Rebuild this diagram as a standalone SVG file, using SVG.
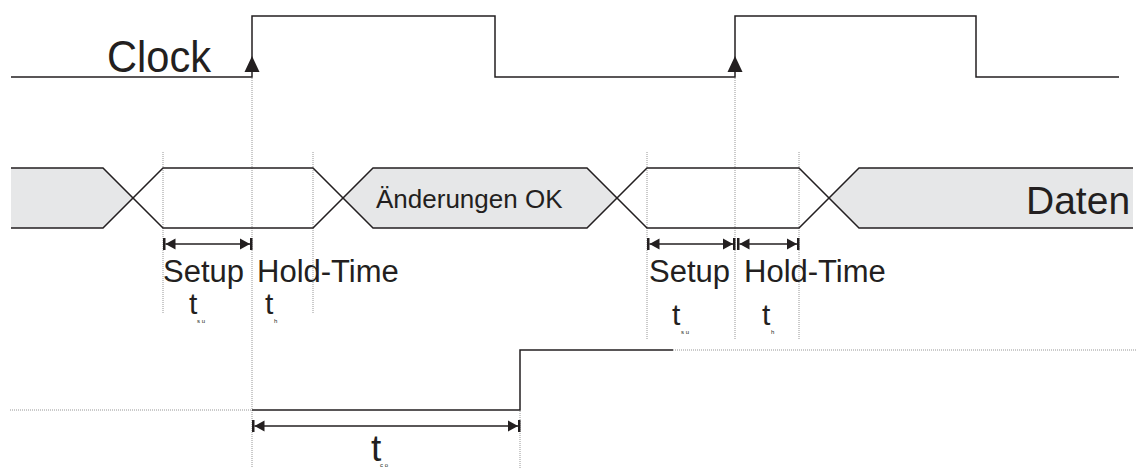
<svg xmlns="http://www.w3.org/2000/svg" width="1136" height="468" viewBox="0 0 1136 468">
<style>
.sig{fill:none;stroke:#231f20;stroke-width:1.5}
.gray{fill:#e6e7e8;stroke:none}
.dot{fill:none;stroke:#8a8a8a;stroke-width:0.9;stroke-dasharray:1 1}
.dim{fill:none;stroke:#231f20;stroke-width:1.4;marker-start:url(#dimEnd);marker-end:url(#dimEnd)}
.txt{font-family:"Liberation Sans",Arial,sans-serif;fill:#231f20}
.sub{font-family:"Liberation Sans",Arial,sans-serif;fill:#231f20;font-size:6px}
.edge{fill:#231f20;stroke:none}
</style>
<defs>
<marker id="dimEnd" markerUnits="userSpaceOnUse" viewBox="0 0 13 12" refX="10" refY="6" markerWidth="13" markerHeight="12" orient="auto-start-reverse">
<path d="M0,0.5 L10,6 L0,11.5 Z M10,0 H12.5 V12 H10 Z" fill="#231f20"/>
</marker>
</defs>
<rect width="1136" height="468" fill="#ffffff"/>
<g id="guides">
<line class="dot" x1="252" y1="78" x2="252" y2="468"/>
<line class="dot" x1="735" y1="78" x2="735" y2="340"/>
<line class="dot" x1="163" y1="152" x2="163" y2="313"/>
<line class="dot" x1="313" y1="152" x2="313" y2="313"/>
<line class="dot" x1="647" y1="152" x2="647" y2="340"/>
<line class="dot" x1="799" y1="152" x2="799" y2="340"/>
<line class="dot" x1="520" y1="411" x2="520" y2="468"/>
<line class="dot" x1="10" y1="410" x2="252" y2="410"/>
<line class="dot" x1="673" y1="350" x2="1136" y2="350"/>
</g>
<g id="clock">
<path class="sig" d="M11,77 H252 V16 H495 V77 H735 V16 H976 V77 H1119"/>
<polygon class="edge" points="244.5,72 259.5,72 252,56"/>
<polygon class="edge" points="727.5,72 742.5,72 735,56"/>
<text class="txt" x="107" y="72" font-size="44" textLength="104" lengthAdjust="spacingAndGlyphs">Clock</text>
</g>
<g id="data">
<polygon class="gray" points="11,168 103,168 133,198 103,228 11,228"/>
<polygon class="gray" points="343,198 373,168 587,168 617,198 587,228 373,228"/>
<polygon class="gray" points="829,198 859,168 1133,168 1133,228 859,228"/>
<path class="sig" d="M11,168 H103 L163,228 H313 L373,168 H587 L647,228 H799 L859,168 H1133"/>
<path class="sig" d="M11,228 H103 L163,168 H313 L373,228 H587 L647,168 H799 L859,228 H1133"/>
<text class="txt" x="376" y="208" font-size="26">Änderungen OK</text>
<text class="txt" x="1026" y="214" font-size="39">Daten</text>
</g>
<g id="output">
<path class="sig" d="M252,410 H520 V350 H673"/>
</g>
<g id="connectors">
<line class="dim" x1="165.5" y1="244" x2="250" y2="244"/>
<line class="dim" x1="649.5" y1="244" x2="733" y2="244"/>
<line class="dim" x1="739.5" y1="244" x2="797" y2="244"/>
<line class="dim" x1="254.5" y1="426" x2="518" y2="426"/>
</g>
<g id="labels1">
<text class="txt" x="163" y="282" font-size="31">Setup</text>
<text class="txt" x="257" y="282" font-size="31">Hold-Time</text>
<text class="txt" x="189" y="314" font-size="30">t</text>
<text class="sub" x="197" y="323">s u</text>
<text class="txt" x="265" y="314" font-size="30">t</text>
<text class="sub" x="274" y="323">h</text>
</g>
<g id="labels2">
<text class="txt" x="649" y="282" font-size="31">Setup</text>
<text class="txt" x="744" y="282" font-size="31">Hold-Time</text>
<text class="txt" x="672" y="325" font-size="30">t</text>
<text class="sub" x="681" y="334">s u</text>
<text class="txt" x="762" y="325" font-size="30">t</text>
<text class="sub" x="771" y="334">h</text>
</g>
<g id="labels3">
<text class="txt" x="371" y="461" font-size="37">t</text>
<text class="sub" x="380" y="467">c o</text>
</g>
</svg>
